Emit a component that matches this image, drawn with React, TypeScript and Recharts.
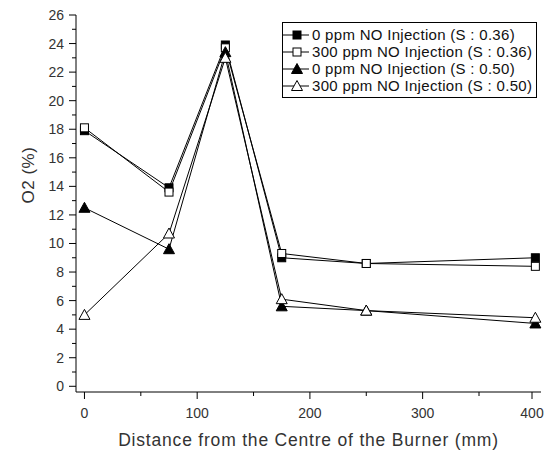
import { LineChart, Line, XAxis, YAxis } from "recharts";

const distances = [0, 75, 125, 175, 250, 400];
const s036_0ppm = [17.9, 13.9, 23.9, 9.0, 8.6, 9.0];
const s036_300ppm = [18.1, 13.6, 23.7, 9.3, 8.6, 8.4];
const s050_0ppm = [12.5, 9.6, 23.4, 5.6, 5.3, 4.4];
const s050_300ppm = [5.0, 10.7, 23.0, 6.1, 5.3, 4.8];

const xTicks = [0, 50, 100, 150, 200, 250, 300, 350, 400];
const yTicks = Array.from({ length: 27 }, (_, i) => i);

const seriesInfo = [
  { key: "a", name: "0 ppm NO Injection (S : 0.36)", shape: "square", filled: true },
  { key: "b", name: "300 ppm NO Injection (S : 0.36)", shape: "square", filled: false },
  { key: "c", name: "0 ppm NO Injection (S : 0.50)", shape: "triangle", filled: true },
  { key: "d", name: "300 ppm NO Injection (S : 0.50)", shape: "triangle", filled: false },
];

const data = distances.map((d, i) => ({
  x: d,
  a: s036_0ppm[i],
  b: s036_300ppm[i],
  c: s050_0ppm[i],
  d: s050_300ppm[i],
}));

const FONT = "'Liberation Sans', Arial, sans-serif";
const TEXT = "#333";

function Marker({ cx, cy, shape, filled }: { cx: number; cy: number; shape: string; filled: boolean }) {
  const fill = filled ? "#000" : "#fff";
  if (shape === "square") {
    return <rect x={cx - 4} y={cy - 4} width={8} height={8} fill={fill} stroke="#000" strokeWidth={1} />;
  }
  return (
    <polygon
      points={`${cx},${cy - 5.5} ${cx - 5.5},${cy + 4.5} ${cx + 5.5},${cy + 4.5}`}
      fill={fill}
      stroke="#000"
      strokeWidth={1}
    />
  );
}

function YTick(props: any) {
  const { x, y, payload } = props;
  const major = payload.value % 2 === 0;
  return (
    <g>
      <line x1={x} x2={x - (major ? 7 : 4)} y1={y} y2={y} stroke="#000" />
      {major && (
        <text x={x - 12} y={y} dy={5} textAnchor="end" fontSize={14} fill={TEXT} fontFamily={FONT}>
          {payload.value}
        </text>
      )}
    </g>
  );
}

function XTick(props: any) {
  const { x, y, payload } = props;
  const major = payload.value % 100 === 0;
  return (
    <g>
      <line x1={x} x2={x} y1={y} y2={y + (major ? 7 : 4)} stroke="#000" />
      {major && (
        <text x={x} y={y + 26} textAnchor="middle" fontSize={14} fill={TEXT} fontFamily={FONT}>
          {payload.value}
        </text>
      )}
    </g>
  );
}

function LegendBox() {
  return (
    <div
      style={{
        position: "absolute",
        left: 282,
        top: 22,
        border: "1px solid #000",
        background: "#fff",
        padding: "3px 4px 3px 0",
        fontFamily: FONT,
        fontSize: 15,
        letterSpacing: 0.3,
        color: "#111",
      }}
    >
      {seriesInfo.map((s) => (
        <div key={s.key} style={{ display: "flex", alignItems: "center", height: 17 }}>
          <svg width={29} height={14}>
            <line x1={0} x2={26} y1={7} y2={7} stroke="#000" />
            <Marker cx={14} cy={7} shape={s.shape} filled={s.filled} />
          </svg>
          <span style={{ whiteSpace: "nowrap" }}>{s.name}</span>
        </div>
      ))}
    </div>
  );
}

export default function App() {
  return (
    <div style={{ position: "absolute", left: 0, top: 0, width: 544, height: 452, background: "#fff" }}>
      <LineChart width={544} height={452} data={data} margin={{ top: 15, right: 3, bottom: 0, left: 0 }}>
        <XAxis
          dataKey="x"
          type="number"
          domain={[-7.5, 405]}
          ticks={xTicks}
          tick={<XTick />}
          tickLine={false}
          tickSize={0}
          tickMargin={0}
          height={60}
          axisLine={{ stroke: "#000" }}
          label={{
            value: "Distance from the Centre of the Burner (mm)",
            position: "insideBottom",
            offset: 6,
            fontSize: 17.5,
            letterSpacing: 0.8,
            fill: TEXT,
            fontFamily: FONT,
          }}
        />
        <XAxis xAxisId="top" orientation="top" type="number" domain={[-7.5, 405]} tick={false} tickLine={false} height={0} axisLine={{ stroke: "#000" }} />
        <YAxis
          type="number"
          domain={[-0.4, 26]}
          ticks={yTicks}
          tick={<YTick />}
          tickLine={false}
          tickSize={0}
          tickMargin={0}
          width={76}
          interval={0}
          axisLine={{ stroke: "#000" }}
          label={{
            value: "O2 (%)",
            angle: -90,
            position: "insideLeft",
            offset: 28,
            fontSize: 17,
            letterSpacing: 0.5,
            fill: TEXT,
            fontFamily: FONT,
          }}
        />
        <YAxis yAxisId="right" orientation="right" domain={[-0.4, 26]} tick={false} tickLine={false} width={0} axisLine={{ stroke: "#000" }} />
        {seriesInfo.map((s) => (
          <Line
            key={s.key}
            dataKey={s.key}
            name={s.name}
            stroke="#000"
            strokeWidth={1}
            isAnimationActive={false}
            dot={(p: any) => <Marker key={`${s.key}-${p.index}`} cx={p.cx} cy={p.cy} shape={s.shape} filled={s.filled} />}
            activeDot={false}
          />
        ))}
      </LineChart>
      <LegendBox />
    </div>
  );
}
